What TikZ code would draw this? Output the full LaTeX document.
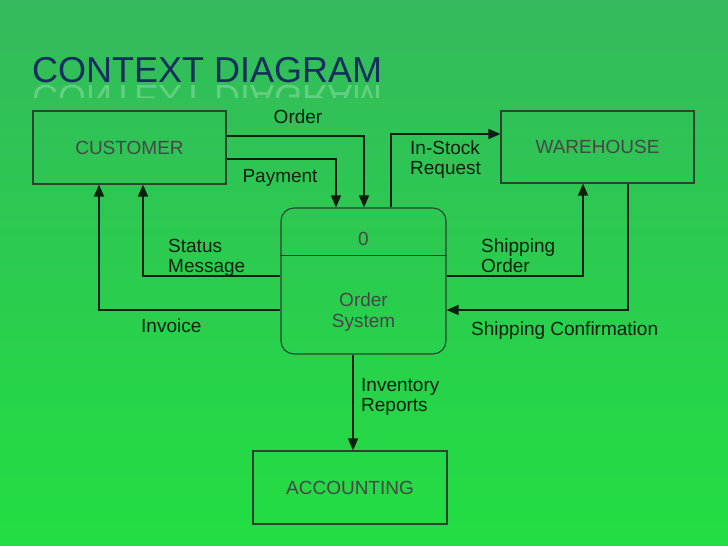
\documentclass[tikz,border=0pt]{standalone}
\usepackage{fontspec}
\setmainfont{Liberation Sans}
\usetikzlibrary{arrows.meta,positioning}

\definecolor{bgtop}{RGB}{52,186,92}
\definecolor{bgbot}{RGB}{34,222,66}
\definecolor{titleblue}{RGB}{20,46,94}
\definecolor{ink}{RGB}{10,32,14}

\tikzset{
  entity/.style={draw=ink!85, line width=1.1pt, minimum width=193pt,
    minimum height=73pt, inner sep=0pt, text=black!72,
    font=\fontsize{19}{20}\selectfont},
  proc/.style={draw=ink!85, line width=1.1pt, rounded corners=13pt,
    minimum width=165pt, minimum height=146pt, inner sep=0pt},
  flow/.style={draw=ink, line width=1.4pt, -{Triangle[length=12pt,width=10pt]}},
  lbl/.style={text=ink, font=\fontsize{19}{20}\selectfont, align=left,
    inner sep=0pt},
  ptxt/.style={text=black!72, font=\fontsize{19}{21}\selectfont,
    align=center, inner sep=0pt}
}

\begin{document}
\begin{tikzpicture}[x=1pt,y=-1pt]
  \useasboundingbox (0,0) rectangle (728,546);
  \fill[top color=bgtop, bottom color=bgbot] (0,0) rectangle (728,546);

  % title and its reflection
  \node[anchor=base west, inner sep=0pt, text=titleblue,
    font=\fontsize{36}{36}\selectfont] (title) at (32,82) {CONTEXT DIAGRAM};
  \begin{scope}
    \clip (0,84) rectangle (728,97);
    \node[anchor=base west, inner sep=0pt, text=white, opacity=0.25,
      yscale=-1, transform shape, font=\fontsize{36}{36}\selectfont]
      (mirror) at (32,85) {CONTEXT DIAGRAM};
  \end{scope}

  % entities and process
  \node[entity] (customer) at (129.5,147.5) {CUSTOMER};
  \node[entity, minimum height=72pt] (warehouse) at (597.5,147) {WAREHOUSE};
  \node[entity, minimum width=194pt] (accounting) at (350,487.5) {ACCOUNTING};
  \node[proc] (process) at (363.5,281) {};
  \draw[draw=ink!85, line width=1.1pt] ([yshift=-48pt]process.north west)
    -- ([yshift=-48pt]process.north east);
  \node[ptxt, anchor=base] (pid) at (363.5,245) {0};
  \node[ptxt, anchor=base] (pname) at (363.5,327) {Order\\System};

  % data flows
  \draw[flow] (customer.east |- 0,136) -| ([xshift=0.5pt]process.north);
  \draw[flow] (customer.east |- 0,159) -| ([xshift=-27.5pt]process.north);
  \draw[flow] ([xshift=27.5pt]process.north) |- (warehouse.west |- 0,134);
  \draw[flow] (process.east |- 0,276) -| ([xshift=-14.5pt]warehouse.south);
  \draw[flow] ([xshift=30.5pt]warehouse.south) |- (process.east |- 0,310);
  \draw[flow] (process.west |- 0,276) -| ([xshift=13.5pt]customer.south);
  \draw[flow] (process.west |- 0,310) -| ([xshift=-30.5pt]customer.south);
  \draw[flow] ([xshift=-10.5pt]process.south) -- ([xshift=3pt]accounting.north);

  % flow labels
  \node[lbl, anchor=base] (order) at (298,123) {Order};
  \node[lbl, anchor=base] (payment) at (280,182) {Payment};
  \node[lbl, anchor=base west] (stock) at (410,174) {In-Stock\\Request};
  \node[lbl, anchor=base west] (shiporder) at (481,272) {Shipping\\Order};
  \node[lbl, anchor=base west] (shipconf) at (471,335) {Shipping Confirmation};
  \node[lbl, anchor=base west] (status) at (168,272) {Status\\Message};
  \node[lbl, anchor=base west] (invoice) at (141,332) {Invoice};
  \node[lbl, anchor=base west] (inventory) at (361,411) {Inventory\\Reports};
\end{tikzpicture}
\end{document}
